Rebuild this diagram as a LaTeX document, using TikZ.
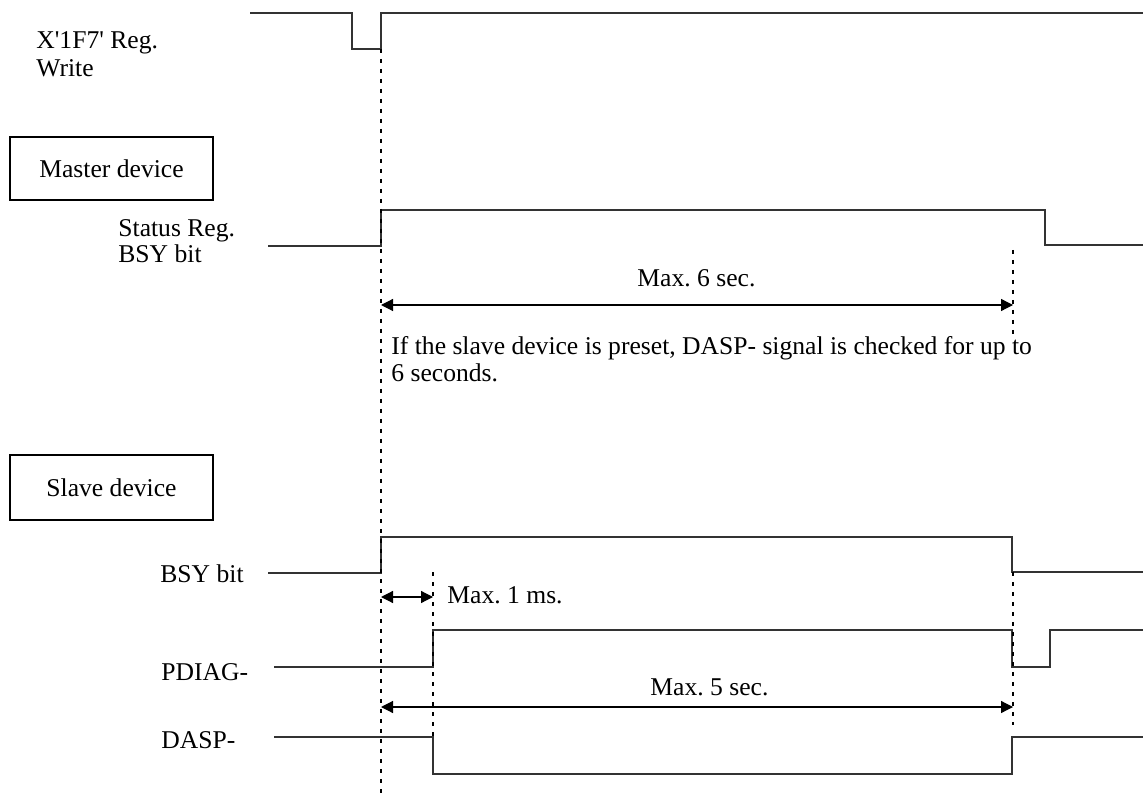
\documentclass[tikz,border=0pt]{standalone}
\usepackage{fontspec}
\setmainfont{Liberation Serif}
\usetikzlibrary{arrows.meta}
\frenchspacing
\begin{document}
\begin{tikzpicture}[x=0.5pt,y=-0.5pt,
wave/.style={draw=black!80,line width=0.6pt},
guide/.style={line width=1.2pt,dash pattern=on 2pt off 3pt},
span/.style={line width=0.6pt,{Triangle[length=6pt,width=6pt]}-{Triangle[length=6pt,width=6pt]}},
lbl/.style={font=\fontsize{12.8}{15}\selectfont,inner sep=0pt,anchor=base west},
devbox/.style={draw,line width=0.6pt,minimum width=101.5pt,font=\fontsize{12.8}{15}\selectfont}
]
\useasboundingbox (0,0) rectangle (1143,795);
% signal names
\node[lbl] (wr1) at (36,49) {X\textquotesingle 1F7\textquotesingle{} Reg.};
\node[lbl] (wr2) at (36,77) {Write};
\node[devbox,minimum height=31.5pt] (master) at (111.5,168.5) {Master device};
\node[lbl] (st1) at (118,237) {Status Reg.};
\node[lbl] (st2) at (118,263) {BSY bit};
\node[devbox,minimum height=32.5pt] (slave) at (111.5,487.5) {Slave device};
\node[lbl] (bsy) at (160,582) {BSY bit};
\node[lbl] (pdiag) at (161,680) {PDIAG-};
\node[lbl] (dasp) at (161,748) {DASP-};
% waveforms
\draw[wave] (250,13) -| (352,49) -| (381,13) -- (1143,13);
\draw[wave] (268,246) -| (381,210) -| (1045,245) -- (1143,245);
\draw[wave] (268,573) -| (381,537) -| (1012,572) -- (1143,572);
\draw[wave] (274,667) -| (433,630) -| (1012,667) -| (1050,630) -- (1143,630);
\draw[wave] (274,737) -| (433,774) -| (1012,737) -- (1143,737);
% timing guides
\coordinate (t0top) at (381,49);
\coordinate (t0bot) at (381,795);
\coordinate (t6top) at (1013,250);
\coordinate (t6bot) at (1013,335);
\coordinate (t1top) at (433,572);
\coordinate (t1bot) at (433,737);
\coordinate (t5top) at (1013,572);
\coordinate (t5bot) at (1013,725);
\draw[guide] (t0top) -- (t0bot);
\draw[guide] (t6top) -- (t6bot);
\draw[guide] (t1top) -- (t1bot);
\draw[guide] (t5top) -- (t5bot);
% spans
\coordinate (s6l) at (381,305);
\coordinate (s6r) at (1013,305);
\coordinate (s1l) at (381,597);
\coordinate (s1r) at (433,597);
\coordinate (s5l) at (381,707);
\coordinate (s5r) at (1013,707);
\draw[span] (s6l) -- (s6r);
\draw[span] (s1l) -- (s1r);
\draw[span] (s5l) -- (s5r);
\node[lbl] (max6) at (637,287) {Max. 6 sec.};
\node[lbl] (max1) at (447,603) {Max. 1 ms.};
\node[lbl] (max5) at (650,695) {Max. 5 sec.};
\node[lbl] (note1) at (391,355) {If the slave device is preset, DASP- signal is checked for up to};
\node[lbl] (note2) at (391,382) {6 seconds.};
\end{tikzpicture}
\end{document}
